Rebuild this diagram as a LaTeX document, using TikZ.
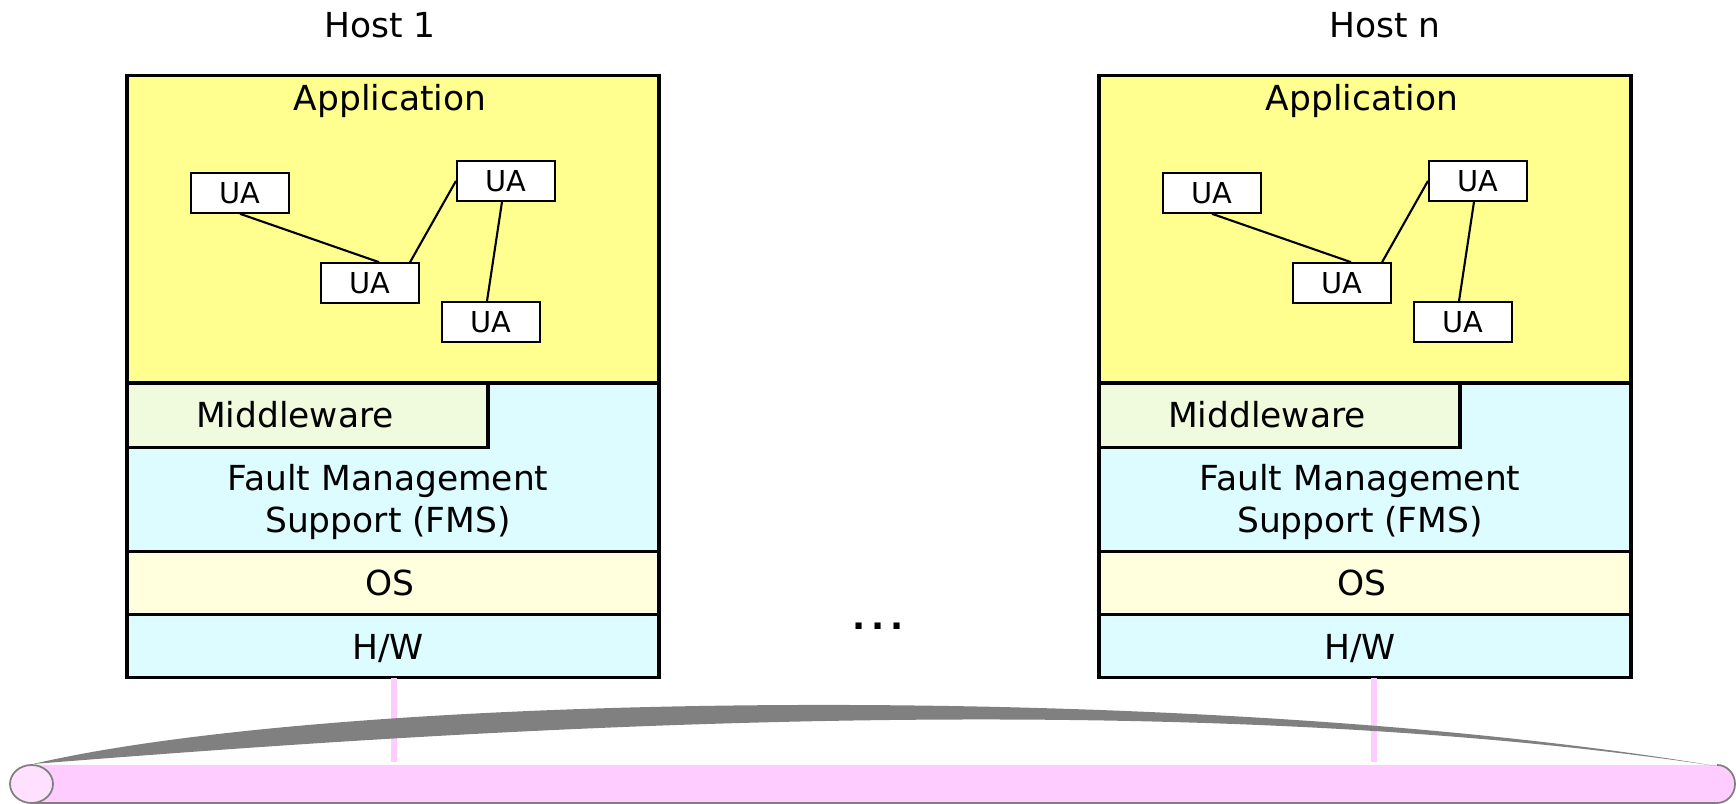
\documentclass[tikz,border=0pt]{standalone}
\usepackage{fontspec}
\setmainfont{DejaVu Sans}
\usetikzlibrary{calc}

\definecolor{appfill}{HTML}{FFFF90}
\definecolor{mwfill}{HTML}{EFFBDC}
\definecolor{fmsfill}{HTML}{DCFCFF}
\definecolor{osfill}{HTML}{FFFFDD}
\definecolor{hwfill}{HTML}{DCFCFF}
\definecolor{busfill}{HTML}{FFCCFF}
\definecolor{capfill}{HTML}{FFE0FF}
\definecolor{busgray}{HTML}{808080}

\tikzset{
  layer/.style={draw=black, line width=0.9pt},
  ua/.style={draw, fill=white, line width=0.6pt, minimum width=0.98cm,
    minimum height=0.395cm, inner sep=0pt, font=\fontsize{8.2}{10}\selectfont},
  link/.style={line width=0.6pt},
  stub/.style={draw=busfill, line width=1.7pt},
  busline/.style={draw=busgray, line width=0.5pt},
}

\begin{document}
\begin{tikzpicture}[x=0.01cm, y=-0.01cm, font=\fontsize{9.8}{11.9}\selectfont]

\useasboundingbox (0,0) rectangle (1736,804);

% Host labels
\node (host1) at (380,25) {Host 1};
\node (hostn) at (1385,25) {Host n};

% Host 1 layers
\draw[layer, fill=appfill] (127,75.5) rectangle (659,383);
\draw[layer, fill=fmsfill] (127,383) rectangle (659,551.5);
\draw[layer, fill=mwfill] (127,383) rectangle (488,447.5);
\draw[layer, fill=osfill] (127,551.5) rectangle (659,614.5);
\draw[layer, fill=hwfill] (127,614.5) rectangle (659,677.5);

\node (app1) at (390,101.5) {Application};
\node (mw1) at (295,415) {Middleware};
\node[align=center] (fms1) at (388,502) {Fault Management\\Support (FMS)};
\node (os1) at (390,583) {OS};
\node (hw1) at (388,649) {H/W};

% User agents of host 1
\node[ua] (a1) at (240,193) {UA};
\node[ua] (a2) at (506,181) {UA};
\node[ua] (a3) at (370,283) {UA};
\node[ua] (a4) at (491,322) {UA};
\draw[link] (a1.south) -- ([xshift=0.09cm]a3.north);
\draw[link] ([xshift=-0.1cm]a3.north east) -- (a2.west);
\draw[link] ([xshift=-0.04cm]a2.south) -- ([xshift=-0.04cm]a4.north);

% Host n, same stack shifted right
\begin{scope}[shift={(972,0)}]
\draw[layer, fill=appfill] (127,75.5) rectangle (659,383);
\draw[layer, fill=fmsfill] (127,383) rectangle (659,551.5);
\draw[layer, fill=mwfill] (127,383) rectangle (488,447.5);
\draw[layer, fill=osfill] (127,551.5) rectangle (659,614.5);
\draw[layer, fill=hwfill] (127,614.5) rectangle (659,677.5);

\node (appn) at (390,101.5) {Application};
\node (mwn) at (295,415) {Middleware};
\node[align=center] (fmsn) at (388,502) {Fault Management\\Support (FMS)};
\node (osn) at (390,583) {OS};
\node (hwn) at (388,649) {H/W};

\node[ua] (b1) at (240,193) {UA};
\node[ua] (b2) at (506,181) {UA};
\node[ua] (b3) at (370,283) {UA};
\node[ua] (b4) at (491,322) {UA};
\draw[link] (b1.south) -- ([xshift=0.09cm]b3.north);
\draw[link] ([xshift=-0.1cm]b3.north east) -- (b2.west);
\draw[link] ([xshift=-0.04cm]b2.south) -- ([xshift=-0.04cm]b4.north);
\end{scope}

% More hosts in between
\node (dots) at (878,626) {\bfseries .\hspace{1.8pt}.\hspace{1.8pt}.};

% Taps from the hosts down to the bus
\coordinate (host1) at (394,678);
\coordinate (tap1) at (394,762);
\coordinate (hostn) at (1374,678);
\coordinate (tapn) at (1374,762);
\draw[stub] (host1) -- (tap1);
\draw[stub] (hostn) -- (tapn);

% Bus body
\fill[busfill] (31.5,803) -- (1717,803)
  arc[start angle=-90, end angle=90, x radius=0.18cm, y radius=0.19cm]
  -- (31.5,765) -- cycle;
\draw[busline] (31.5,803) -- (1717,803)
  arc[start angle=-90, end angle=90, x radius=0.18cm, y radius=0.19cm];

% Top rim of the bus
\fill[busgray] (33,764) .. controls (350,690) and (1200,680) .. (1716,766)
  .. controls (1150,682) and (450,731) .. (33,764) -- cycle;

% Left end cap
\draw[busline, fill=capfill] (31.5,784) ellipse [x radius=0.215cm, y radius=0.19cm];

\end{tikzpicture}
\end{document}
